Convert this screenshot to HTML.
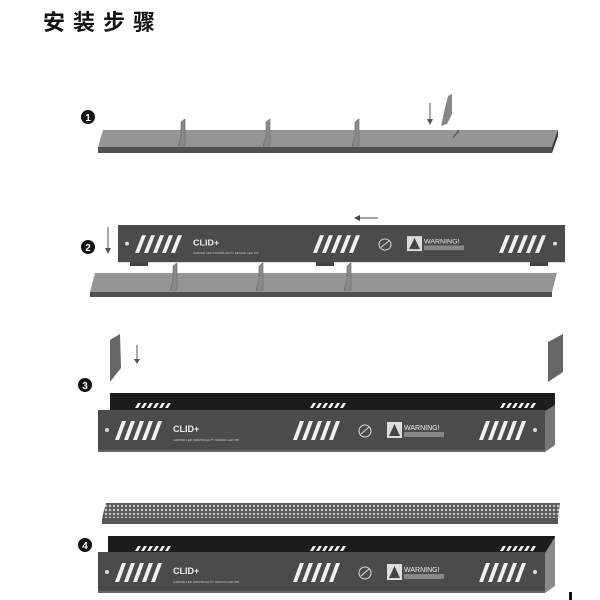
<!DOCTYPE html>
<html><head><meta charset="utf-8"><style>
html,body{margin:0;padding:0;background:#fff;width:600px;height:600px;overflow:hidden}
</style></head><body>
<svg width="600" height="600" viewBox="0 0 600 600" xmlns="http://www.w3.org/2000/svg" font-family="Liberation Sans, sans-serif">
<defs>
<g id="st"><path d="M6,0h4l-7,19h-4z M15,0h4l-7,19h-4z M24,0h4l-7,19h-4z M33,0h4l-7,19h-4z M42,0h4l-7,19h-4z" fill="#f2f2f2"/></g>
<g id="sts"><path d="M3,0h3l-3,5h-3z M9,0h3l-3,5h-3z M15,0h3l-3,5h-3z M21,0h3l-3,5h-3z M27,0h3l-3,5h-3z M33,0h3l-3,5h-3z" fill="#f2f2f2"/></g>
<g id="fin"><path d="M0,0 L3,-9 L3,-24 L7,-27 L7,0 Z" fill="#8a8a8a" stroke="#666" stroke-width="0.6"/></g>
<pattern id="mesh" width="4" height="4" patternUnits="userSpaceOnUse"><rect width="4" height="4" fill="#5a5a5a"/><circle cx="2" cy="2" r="1.2" fill="#c4c4c4"/></pattern>
<g id="panel">
<rect x="0" y="0" width="447" height="40" fill="#4b4b4b"/>
<circle cx="9" cy="20" r="2" fill="#ddd"/><circle cx="437" cy="20" r="2" fill="#ddd"/>
<use href="#st" x="18" y="11"/><use href="#st" x="196" y="11"/><use href="#st" x="382" y="11"/>
<text x="75" y="22" font-size="9" font-weight="bold" fill="#eee">CLID+</text>
<text x="75" y="31" font-size="3" fill="#ccc">CARPAD LED INDIVIDUALITY DESIGN   LED 255</text>
<circle cx="267" cy="21" r="6" fill="none" stroke="#ddd" stroke-width="1"/><path d="M263,24 L271,17" stroke="#ddd"/>
<rect x="289" y="12" width="15" height="16" fill="#ddd"/><path d="M296.5,14 L302,26 L291,26Z" fill="#444"/>
<text x="306" y="20" font-size="7" fill="#eee">WARNING!</text>
<rect x="306" y="22" width="40" height="5" fill="#888"/>
</g>
</defs>

<text x="43" y="30" font-size="22" font-weight="bold" letter-spacing="8" fill="#111" font-family="Liberation Sans, Noto Sans CJK SC, sans-serif">安装步骤</text>

<!-- Step 1 -->
<circle cx="88" cy="117" r="7" fill="#111"/><text x="88" y="121" font-size="10" font-weight="bold" fill="#fff" text-anchor="middle">1</text>
<path d="M103,130 L558,130 L552,147 L98,147 Z" fill="#959595"/>
<path d="M98,147 L552,147 L552,153 L98,153 Z" fill="#505050"/>
<path d="M552,147 L558,130 L558,136 L552,153Z" fill="#333"/>
<use href="#fin" x="178" y="146"/><use href="#fin" x="263" y="146"/><use href="#fin" x="352" y="146"/>
<path d="M441,126 L445,108 L448,96 L452,94 L452,114 L447,124Z" fill="#888"/>
<path d="M430,103 V123" stroke="#555" stroke-width="1"/><path d="M427,119 L430,125 L433,119Z" fill="#555"/>
<path d="M453,138 L459,130" stroke="#444"/>

<!-- Step 2 -->
<circle cx="88" cy="247" r="7" fill="#111"/><text x="88" y="251" font-size="10" font-weight="bold" fill="#fff" text-anchor="middle">2</text>
<path d="M108,227 V252" stroke="#555"/><path d="M105,248 L108,254 L111,248Z" fill="#555"/>
<path d="M355,218 H378" stroke="#444"/><path d="M360,215 L354,218 L360,221Z" fill="#444"/>
<g transform="translate(118,225) scale(1,0.93)"><use href="#panel"/></g>
<rect x="130" y="262" width="18" height="4" fill="#444"/><rect x="316" y="262" width="18" height="4" fill="#444"/><rect x="530" y="262" width="18" height="4" fill="#444"/>
<path d="M95,273 L557,273 L552,292 L90,292 Z" fill="#959595"/>
<path d="M90,292 L552,292 L552,297 L90,297Z" fill="#505050"/>
<use href="#fin" x="170" y="290"/><use href="#fin" x="256" y="290"/><use href="#fin" x="344" y="290"/>

<!-- Step 3 -->
<circle cx="85" cy="385" r="7" fill="#111"/><text x="85" y="389" font-size="10" font-weight="bold" fill="#fff" text-anchor="middle">3</text>
<path d="M110,340 L120,334 L121,368 L110,382Z" fill="#666"/>
<path d="M137,345 V362" stroke="#555"/><path d="M134,359 L137,364 L140,359Z" fill="#555"/>
<path d="M548,342 L563,334 L563,372 L548,382Z" fill="#666"/>
<rect x="110" y="393" width="445" height="18" fill="#1c1c1c"/>
<use href="#sts" x="135" y="403"/><use href="#sts" x="310" y="403"/><use href="#sts" x="500" y="403"/>
<path d="M545,411 L555,405 L555,445 L545,452Z" fill="#777"/>
<use href="#panel" x="98" y="410"/>
<rect x="98" y="450" width="447" height="2" fill="#666"/>

<!-- Step 4 -->
<path d="M106,503 L560,503 L558,518 L102,518Z" fill="url(#mesh)"/>
<path d="M102,518 L558,518 L558,524 L102,524Z" fill="#555"/>
<circle cx="85" cy="545" r="7" fill="#111"/><text x="85" y="549" font-size="10" font-weight="bold" fill="#fff" text-anchor="middle">4</text>
<rect x="108" y="536" width="447" height="18" fill="#1c1c1c"/>
<use href="#sts" x="135" y="546"/><use href="#sts" x="310" y="546"/><use href="#sts" x="500" y="546"/>
<path d="M545,553 L555,537 L555,586 L545,593Z" fill="#8a8a8a"/>
<use href="#panel" x="98" y="552"/>
<rect x="98" y="591" width="447" height="2" fill="#666"/>
<rect x="569" y="592" width="3" height="8" fill="#111"/>
</svg>
</body></html>
